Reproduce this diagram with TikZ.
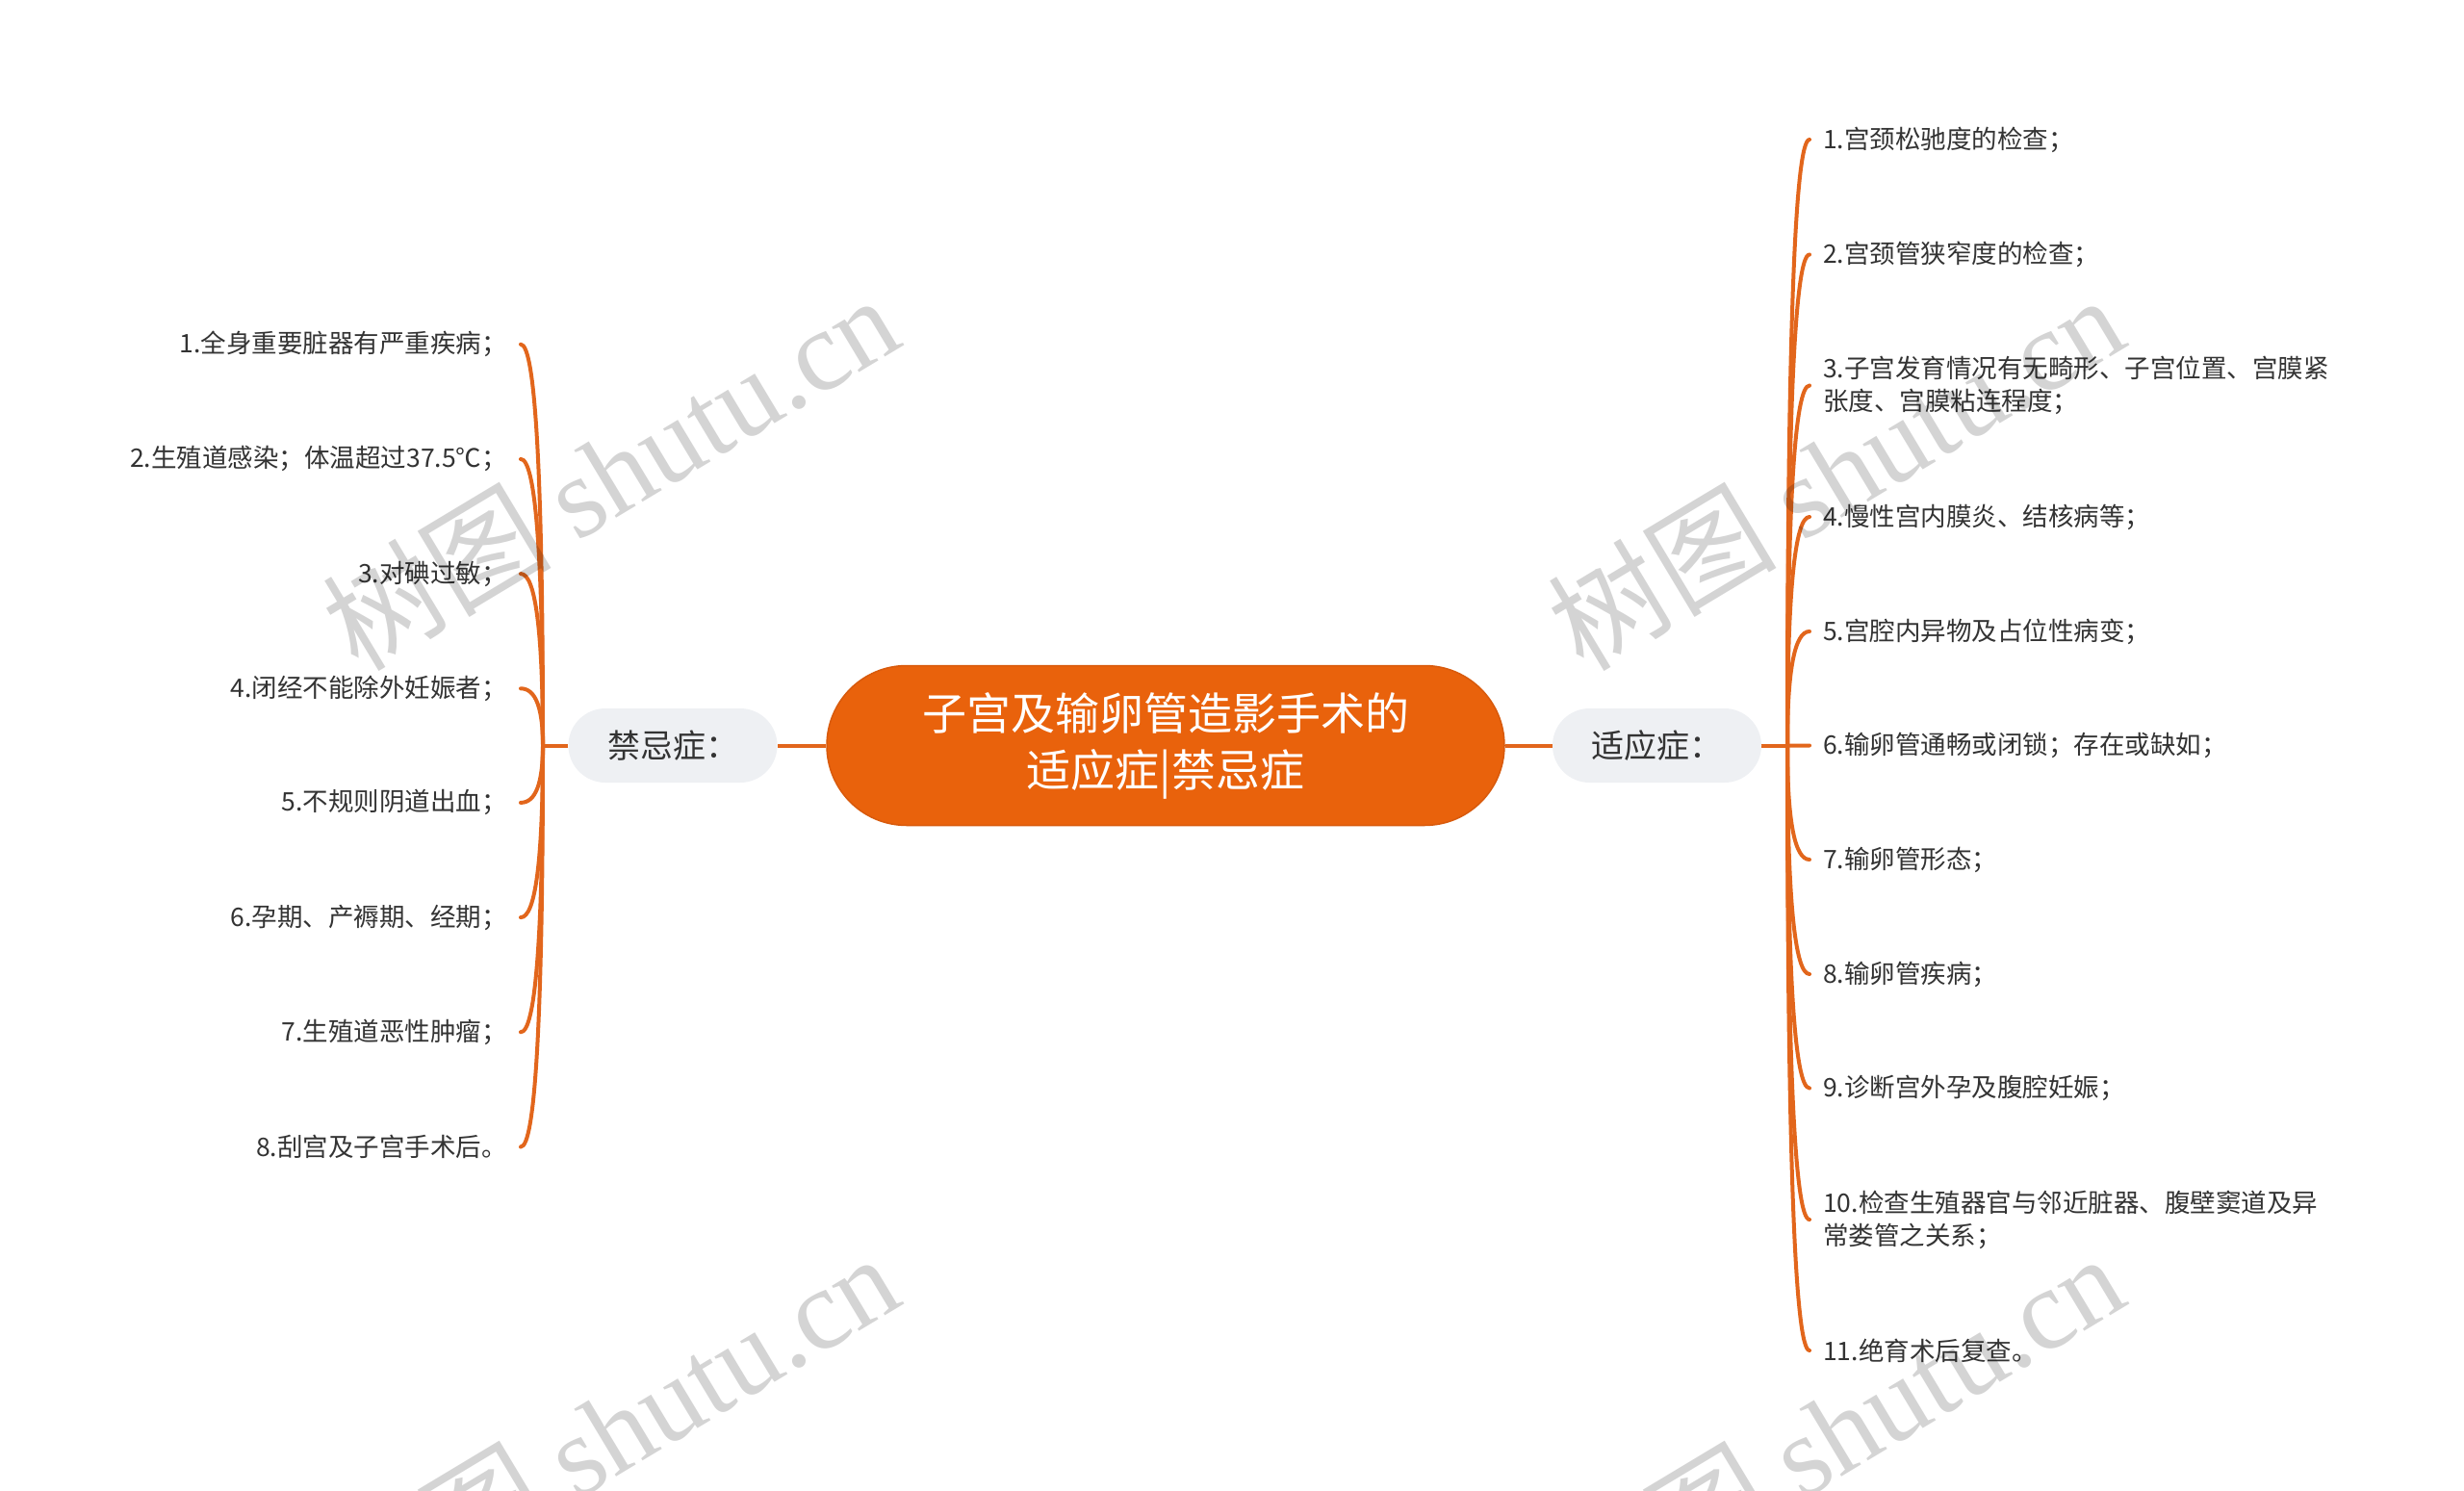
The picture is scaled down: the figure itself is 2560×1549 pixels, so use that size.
\documentclass[tikz,border=0pt]{standalone}
\usepackage{fontspec}
\setmainfont{Noto Sans CJK SC}
\newfontfamily\cjkwm{Noto Sans CJK SC}
\newfontfamily\wmserif{Liberation Serif}
\usetikzlibrary{calc}
\definecolor{rootfill}{HTML}{E9620C}
\definecolor{rootdraw}{HTML}{D85A0C}
\definecolor{linecol}{HTML}{E2661C}
\definecolor{subfill}{HTML}{EEF0F3}
\definecolor{textdark}{HTML}{333333}
\pgfdeclarelayer{background}
\pgfsetlayers{background,main}
\tikzset{
  rootbox/.style={rectangle, rounded corners=83pt, fill=rootfill, draw=rootdraw, line width=1.5pt,
    minimum width=704pt, minimum height=166pt, inner sep=0pt, text=white, align=center,
    font=\fontsize{46}{59}\selectfont},
  subbox/.style={rectangle, rounded corners=38.5pt, fill=subfill, minimum width=217pt,
    minimum height=77pt, inner sep=0pt, text=textdark, font=\fontsize{34}{40}\selectfont},
  leafl/.style={anchor=east, inner xsep=14pt, inner ysep=0pt, text=textdark, align=right,
    font=\fontsize{26.5}{34}\selectfont},
  leafr/.style={anchor=west, inner xsep=14pt, inner ysep=0pt, text=textdark, align=left,
    font=\fontsize{26.5}{34}\selectfont},
  conn/.style={draw=linecol, line width=4pt, line cap=round},
  wmark/.style={inner sep=0pt, text=black, text opacity=0.17, font=\fontsize{119}{119}\selectfont}
}
\begin{document}
\begin{tikzpicture}[x=1pt,y=-1pt]
\useasboundingbox (0,0) rectangle (2560,1549);

% central and branch nodes
\node[rootbox] (root) at (1211,774.5) {子宫及输卵管造影手术的\\适应症|禁忌症};
\node[subbox] (jin) at (699,774.5) {禁忌症：};
\node[subbox] (shi) at (1721.5,774.5) {适应症：};

\coordinate (lt) at (564,774.5);
\coordinate (rt) at (1857,774.5);

% left leaves
\node[leafl] (L1) at (541,357.7) {1.全身重要脏器有严重疾病；};
\node[leafl] (L2) at (541,476.9) {2.生殖道感染；体温超过37.5℃；};
\node[leafl] (L3) at (541,596.1) {3.对碘过敏；};
\node[leafl] (L4) at (541,715.3) {4.闭经不能除外妊娠者；};
\node[leafl] (L5) at (541,833.9) {5.不规则阴道出血；};
\node[leafl] (L6) at (541,953.1) {6.孕期、产褥期、经期；};
\node[leafl] (L7) at (541,1072.3) {7.生殖道恶性肿瘤；};
\node[leafl] (L8) at (541,1191.5) {8.刮宫及子宫手术后。};

% right leaves
\node[leafr] (R1) at (1880,145) {1.宫颈松驰度的检查；};
\node[leafr] (R2) at (1880,264.5) {2.宫颈管狭窄度的检查；};
\node[leafr] (R3) at (1880,400.5) {3.子宫发育情况有无畸形、子宫位置、宫膜紧\\张度、宫膜粘连程度；};
\node[leafr] (R4) at (1880,537) {4.慢性宫内膜炎、结核病等；};
\node[leafr] (R5) at (1880,656) {5.宫腔内异物及占位性病变；};
\node[leafr] (R6) at (1880,774.5) {6.输卵管通畅或闭锁；存在或缺如；};
\node[leafr] (R7) at (1880,893) {7.输卵管形态；};
\node[leafr] (R8) at (1880,1012) {8.输卵管疾病；};
\node[leafr] (R9) at (1880,1130.5) {9.诊断宫外孕及腹腔妊娠；};
\node[leafr] (R10) at (1880,1267) {10.检查生殖器官与邻近脏器、腹壁窦道及异\\常娄管之关系；};
\node[leafr] (R11) at (1880,1403) {11.绝育术后复查。};

\begin{pgfonlayer}{background}
\fill[white] (0,0) rectangle (2560,1549);
\draw[conn, line cap=butt] (root.east) -- (shi.west);
\draw[conn, line cap=butt] (root.west) -- (jin.east);
\draw[conn, line cap=butt] (jin.west) -- (lt);
\draw[conn, line cap=butt] (shi.east) -- (rt);
\foreach \n in {L1,L2,L3,L4,L5,L6,L7,L8}
  \draw[conn] (lt) .. controls ($(lt)!0.6667!(lt|-\n.east)$) and ($(\n.east)!0.6667!(lt|-\n.east)$) .. (\n.east);
\foreach \n in {R1,R2,R3,R4,R5,R6,R7,R8,R9,R10,R11}
  \draw[conn] (rt) .. controls ($(rt)!0.6667!(rt|-\n.west)$) and ($(\n.west)!0.6667!(rt|-\n.west)$) .. (\n.west);
\end{pgfonlayer}

% watermarks
\foreach \dx/\dy [count=\i] in {0/0,1273/0,0/996,1273/996}
  \node[wmark, anchor=base west, rotate=31] (wm\i) at (372+\dx,700+\dy) {{\cjkwm 树图} {\wmserif shutu.cn}};
\end{tikzpicture}
\end{document}
